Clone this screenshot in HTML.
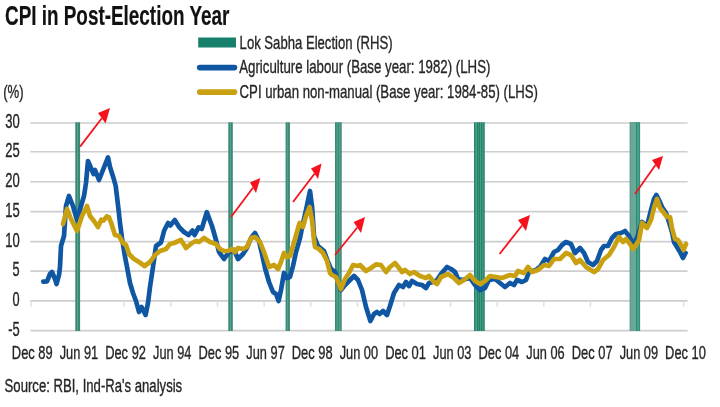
<!DOCTYPE html>
<html lang="en">
<head>
<meta charset="utf-8">
<title>CPI in Post-Election Year</title>
<style>
html,body{margin:0;padding:0;background:#fff;}
body{width:720px;height:407px;overflow:hidden;}
svg{display:block;will-change:transform;opacity:.999;}
</style>
</head>
<body>
<svg width="720" height="407" viewBox="0 0 720 407">
<rect width="720" height="407" fill="#fff"/>
<line x1="30.3" x2="687.6" y1="122.95" y2="122.95" stroke="#cecece" stroke-width="1.6"/>
<line x1="30.3" x2="687.6" y1="151.8" y2="151.8" stroke="#cecece" stroke-width="1.6"/>
<line x1="30.3" x2="687.6" y1="181.8" y2="181.8" stroke="#cecece" stroke-width="1.6"/>
<line x1="30.3" x2="687.6" y1="211.6" y2="211.6" stroke="#cecece" stroke-width="1.6"/>
<line x1="30.3" x2="687.6" y1="241.6" y2="241.6" stroke="#cecece" stroke-width="1.6"/>
<line x1="30.3" x2="687.6" y1="271.1" y2="271.1" stroke="#cecece" stroke-width="1.6"/>
<line x1="30.3" x2="687.6" y1="300.85" y2="300.85" stroke="#cecece" stroke-width="1.6"/>
<line x1="30.3" x2="687.6" y1="330.6" y2="330.6" stroke="#cecece" stroke-width="1.6"/>
<line x1="31.00" x2="31.00" y1="300.85" y2="306.8" stroke="#dcdcdc" stroke-width="1.3"/>
<line x1="77.62" x2="77.62" y1="300.85" y2="306.8" stroke="#dcdcdc" stroke-width="1.3"/>
<line x1="124.24" x2="124.24" y1="300.85" y2="306.8" stroke="#dcdcdc" stroke-width="1.3"/>
<line x1="170.86" x2="170.86" y1="300.85" y2="306.8" stroke="#dcdcdc" stroke-width="1.3"/>
<line x1="217.48" x2="217.48" y1="300.85" y2="306.8" stroke="#dcdcdc" stroke-width="1.3"/>
<line x1="264.10" x2="264.10" y1="300.85" y2="306.8" stroke="#dcdcdc" stroke-width="1.3"/>
<line x1="310.72" x2="310.72" y1="300.85" y2="306.8" stroke="#dcdcdc" stroke-width="1.3"/>
<line x1="357.34" x2="357.34" y1="300.85" y2="306.8" stroke="#dcdcdc" stroke-width="1.3"/>
<line x1="403.96" x2="403.96" y1="300.85" y2="306.8" stroke="#dcdcdc" stroke-width="1.3"/>
<line x1="450.58" x2="450.58" y1="300.85" y2="306.8" stroke="#dcdcdc" stroke-width="1.3"/>
<line x1="497.20" x2="497.20" y1="300.85" y2="306.8" stroke="#dcdcdc" stroke-width="1.3"/>
<line x1="543.82" x2="543.82" y1="300.85" y2="306.8" stroke="#dcdcdc" stroke-width="1.3"/>
<line x1="590.44" x2="590.44" y1="300.85" y2="306.8" stroke="#dcdcdc" stroke-width="1.3"/>
<line x1="637.06" x2="637.06" y1="300.85" y2="306.8" stroke="#dcdcdc" stroke-width="1.3"/>
<line x1="683.68" x2="683.68" y1="300.85" y2="306.8" stroke="#dcdcdc" stroke-width="1.3"/>
<rect x="75.3" y="122.3" width="4.80" height="208.70" fill="#3a8875" opacity="1"/>
<rect x="77.1" y="122.3" width="0.80" height="208.70" fill="#58ad97" opacity="1"/>
<rect x="228.3" y="122.3" width="4.50" height="208.70" fill="#3a8875" opacity="1"/>
<rect x="230.1" y="122.3" width="0.80" height="208.70" fill="#58ad97" opacity="1"/>
<rect x="285.6" y="122.3" width="4.30" height="208.70" fill="#3a8875" opacity="1"/>
<rect x="287.3" y="122.3" width="0.80" height="208.70" fill="#58ad97" opacity="1"/>
<rect x="335" y="122.3" width="6.70" height="208.70" fill="#3a8875" opacity="1"/>
<rect x="336.6" y="122.3" width="1.00" height="208.70" fill="#58ad97" opacity="1"/>
<rect x="339.2" y="122.3" width="1.00" height="208.70" fill="#58ad97" opacity="1"/>
<rect x="474.2" y="122.3" width="10.30" height="208.70" fill="#3fa38b" opacity="1"/>
<rect x="474.09999999999997" y="122.3" width="1.20" height="208.70" fill="#2b7d6a" opacity="1"/>
<rect x="477.0" y="122.3" width="1.20" height="208.70" fill="#2b7d6a" opacity="1"/>
<rect x="478.79999999999995" y="122.3" width="1.20" height="208.70" fill="#2b7d6a" opacity="1"/>
<rect x="481.0" y="122.3" width="1.20" height="208.70" fill="#2b7d6a" opacity="1"/>
<rect x="483.4" y="122.3" width="1.20" height="208.70" fill="#2b7d6a" opacity="1"/>
<rect x="629.7" y="122.3" width="10.40" height="208.70" fill="#2b7d6a" opacity="1"/>
<rect x="630.2" y="122.3" width="6.00" height="208.70" fill="#69a899" opacity="1"/>
<rect x="637.0" y="122.3" width="2.50" height="208.70" fill="#3fa38b" opacity="1"/>
<polyline points="43.3,281.6 47,281.4 50,274 52,272 55,279 56.6,284 59,275 60,267 61,246 64,236 66,206 69,196 73,206 77,220 81,206 84,196 86,183 88,161 93.6,174 95,170 99,180 108,157.4 110,167 113.5,178 115.7,186 118,205 120,223 122,238 124.5,254 127,267 130,283 133,293 136,301 139,312 141.6,307 145.6,315 148,303 150,287 153,267 156,246 161,242.5 164.2,230.5 168.1,223 170.3,225.5 174.8,220 179.4,227.4 184,232 188.6,235 192.5,230.5 194.6,235 198.6,227.4 201.7,229 206.8,212.2 212,226 216,240 219,252 224,259 229,252 234,250 238,259 243,254 247,248 251,238 255,233 259,241 262,254 265,268 269,282 273,292 276,294 278.6,301 281,290 284,273 287,278 290,277 293,266 296,252 300,238 302,228 306,210 310,191 312,206 314,236 318,246 324,251 328,262 331,269 335,272 338,282 341,290 345,285 350,280 354,276 358,280 362,290 366,307 370.4,321 374,314 377,312 379.6,314 383,311 387,315 390,306 394,293 399,285 403,287 406,282 409,286 412,281 417,284 422,285 426,288 429,283 433,282 437,280 441,274 447,267 451,269 455,272 458,279 462,280 470,278 475,285 480,290 485,288 489,280 495,279 500,283 505,287 510,283 514,285 517,280 522,282 526,280 529,272 536,270 540,267 545,259 549,261 554,252 558,250 562,245 566,242 571,244 575,253 580,248 584,253 588,262 593,265 597,261 601,250 604,246 608,246 612,238 616,234 621,233 625,231 629,236 633,244 637,238 642,222 647,226 651,210 654,199 656.4,195 659,200 662,207 666,213 669,222 672,232 674,242 677,247 680,252 683,258 685.6,253" fill="none" stroke="#0f56a3" stroke-width="4.7" stroke-linejoin="round" stroke-linecap="round"/>
<polyline points="63,224 67,209 71,219 77,231 82,216 87,206 90,216 94,221 98,227 101.3,219.6 103.5,220.7 106.8,216.3 109,217.4 111.2,223 115,235 119,236 123,243 126,245 129,254 134,259 139,262 144.5,266 150,262 155,255 160,251 166,249 170,244 174,243 181,240 186,248 192,243 196,241 199,242 204,238 210,242 216,244 220,249 224,251 228,251 232,249 235,252 238,248 243,249 247,247 251,238 255,237 260,242 264,252 269,267 274,265 278,269 281,262 284,253 287,257 290,256 293,246 297,232 299.6,223 303,227 306,216 309.6,207 312,220 314,240 315,247 319,249 323,253 327,261 330,273 332,275 336,277 341,289 345,279 349,273 353,265 358,266 360,265 366,271 371,268 376,264.4 381,265 386,272 390,267 395,263 399,268 402,272 405,270 410,274 414,272 420,276 426,278 429,276 434,282 437,284 441,277 448,274 454,278 459,283 464,280 470,275 475,281 480,284 485,281 490,276 496,277 502,278 510,275 515,276 518,271 524,273 528,267 532,272 538,270 544,265 549,266 554,259 560,259 566,253 571,255 576,263 580,260 586,267 594,272 598,269 603,260 609,255 614,247 619,237 623,242 626,239 630,244 633,249 636,245 639,240 642,223 647,228 651,220 654,208 657,199 660,208 664,213 667,217 670,217 672,228 675,239 678,240 681,245 683.6,250 686,244" fill="none" stroke="#c9a00f" stroke-width="4.7" stroke-linejoin="round" stroke-linecap="round"/>
<line x1="80.1" y1="146.6" x2="101.80" y2="118.20" stroke="#f5121d" stroke-width="1.8"/>
<polygon points="110,108 98,113 105.6,123.4" fill="#f5121d"/>
<line x1="231" y1="217" x2="253.00" y2="187.70" stroke="#f5121d" stroke-width="1.8"/>
<polygon points="260.4,178 250,182.4 256,193" fill="#f5121d"/>
<line x1="293" y1="202" x2="314.50" y2="173.70" stroke="#f5121d" stroke-width="1.8"/>
<polygon points="321.6,163.6 311,168.4 318,179" fill="#f5121d"/>
<line x1="335" y1="255" x2="357.30" y2="227.50" stroke="#f5121d" stroke-width="1.8"/>
<polygon points="365,217 353.6,222 361,233" fill="#f5121d"/>
<line x1="499.6" y1="254" x2="522.00" y2="225.50" stroke="#f5121d" stroke-width="1.8"/>
<polygon points="530,215 518,220 526,231" fill="#f5121d"/>
<line x1="635" y1="194" x2="655.50" y2="165.00" stroke="#f5121d" stroke-width="1.8"/>
<polygon points="663,156 652,160 659,170" fill="#f5121d"/>
<rect x="198.2" y="37.5" width="37.8" height="10" fill="#17806a"/>
<line x1="199.7" x2="234.5" y1="67.6" y2="67.6" stroke="#0f56a3" stroke-width="5.6" stroke-linecap="round"/>
<line x1="199.7" x2="234.5" y1="92.1" y2="92.1" stroke="#c9a00f" stroke-width="5.6" stroke-linecap="round"/>
<text x="5.0" y="24.8" font-family="'Liberation Sans', Arial, sans-serif" font-size="28.2" font-weight="bold" fill="#111" stroke="#111" stroke-width="0.2" text-anchor="start" textLength="224.3" lengthAdjust="spacingAndGlyphs">CPI in Post-Election Year</text>
<text x="239.6" y="48.7" font-family="'Liberation Sans', Arial, sans-serif" font-size="18.4" font-weight="normal" fill="#262626" stroke="#262626" stroke-width="0.35" text-anchor="start" textLength="153" lengthAdjust="spacingAndGlyphs">Lok Sabha Election (RHS)</text>
<text x="239.2" y="72.9" font-family="'Liberation Sans', Arial, sans-serif" font-size="18.4" font-weight="normal" fill="#262626" stroke="#262626" stroke-width="0.35" text-anchor="start" textLength="251.2" lengthAdjust="spacingAndGlyphs">Agriculture labour (Base year: 1982) (LHS)</text>
<text x="239.6" y="97.8" font-family="'Liberation Sans', Arial, sans-serif" font-size="18.4" font-weight="normal" fill="#262626" stroke="#262626" stroke-width="0.35" text-anchor="start" textLength="298.4" lengthAdjust="spacingAndGlyphs">CPI urban non-manual (Base year: 1984-85) (LHS)</text>
<text x="3.2" y="98.2" font-family="'Liberation Sans', Arial, sans-serif" font-size="18.4" font-weight="normal" fill="#262626" stroke="#262626" stroke-width="0.35" text-anchor="start" textLength="20.4" lengthAdjust="spacingAndGlyphs">(%)</text>
<text x="19.7" y="128.3" font-family="'Liberation Sans', Arial, sans-serif" font-size="19.4" font-weight="normal" fill="#262626" stroke="#262626" stroke-width="0.35" text-anchor="end" textLength="14.5" lengthAdjust="spacingAndGlyphs">30</text>
<text x="19.7" y="157.15" font-family="'Liberation Sans', Arial, sans-serif" font-size="19.4" font-weight="normal" fill="#262626" stroke="#262626" stroke-width="0.35" text-anchor="end" textLength="14.5" lengthAdjust="spacingAndGlyphs">25</text>
<text x="19.7" y="187.15" font-family="'Liberation Sans', Arial, sans-serif" font-size="19.4" font-weight="normal" fill="#262626" stroke="#262626" stroke-width="0.35" text-anchor="end" textLength="14.5" lengthAdjust="spacingAndGlyphs">20</text>
<text x="19.7" y="216.95" font-family="'Liberation Sans', Arial, sans-serif" font-size="19.4" font-weight="normal" fill="#262626" stroke="#262626" stroke-width="0.35" text-anchor="end" textLength="14.5" lengthAdjust="spacingAndGlyphs">15</text>
<text x="19.7" y="246.95" font-family="'Liberation Sans', Arial, sans-serif" font-size="19.4" font-weight="normal" fill="#262626" stroke="#262626" stroke-width="0.35" text-anchor="end" textLength="14.5" lengthAdjust="spacingAndGlyphs">10</text>
<text x="19.7" y="276.45000000000005" font-family="'Liberation Sans', Arial, sans-serif" font-size="19.4" font-weight="normal" fill="#262626" stroke="#262626" stroke-width="0.35" text-anchor="end" textLength="7.1000000000000005" lengthAdjust="spacingAndGlyphs">5</text>
<text x="19.7" y="306.20000000000005" font-family="'Liberation Sans', Arial, sans-serif" font-size="19.4" font-weight="normal" fill="#262626" stroke="#262626" stroke-width="0.35" text-anchor="end" textLength="7.1000000000000005" lengthAdjust="spacingAndGlyphs">0</text>
<text x="19.7" y="335.95000000000005" font-family="'Liberation Sans', Arial, sans-serif" font-size="19.4" font-weight="normal" fill="#262626" stroke="#262626" stroke-width="0.35" text-anchor="end" textLength="11.5" lengthAdjust="spacingAndGlyphs">-5</text>
<text x="32.25" y="358.8" font-family="'Liberation Sans', Arial, sans-serif" font-size="18.4" font-weight="normal" fill="#262626" stroke="#262626" stroke-width="0.35" text-anchor="middle" textLength="40.8" lengthAdjust="spacingAndGlyphs">Dec 89</text>
<text x="78.91" y="358.8" font-family="'Liberation Sans', Arial, sans-serif" font-size="18.4" font-weight="normal" fill="#262626" stroke="#262626" stroke-width="0.35" text-anchor="middle" textLength="38.4" lengthAdjust="spacingAndGlyphs">Jun 91</text>
<text x="125.57" y="358.8" font-family="'Liberation Sans', Arial, sans-serif" font-size="18.4" font-weight="normal" fill="#262626" stroke="#262626" stroke-width="0.35" text-anchor="middle" textLength="40.8" lengthAdjust="spacingAndGlyphs">Dec 92</text>
<text x="172.23" y="358.8" font-family="'Liberation Sans', Arial, sans-serif" font-size="18.4" font-weight="normal" fill="#262626" stroke="#262626" stroke-width="0.35" text-anchor="middle" textLength="38.4" lengthAdjust="spacingAndGlyphs">Jun 94</text>
<text x="218.89" y="358.8" font-family="'Liberation Sans', Arial, sans-serif" font-size="18.4" font-weight="normal" fill="#262626" stroke="#262626" stroke-width="0.35" text-anchor="middle" textLength="40.8" lengthAdjust="spacingAndGlyphs">Dec 95</text>
<text x="265.55" y="358.8" font-family="'Liberation Sans', Arial, sans-serif" font-size="18.4" font-weight="normal" fill="#262626" stroke="#262626" stroke-width="0.35" text-anchor="middle" textLength="38.4" lengthAdjust="spacingAndGlyphs">Jun 97</text>
<text x="312.21" y="358.8" font-family="'Liberation Sans', Arial, sans-serif" font-size="18.4" font-weight="normal" fill="#262626" stroke="#262626" stroke-width="0.35" text-anchor="middle" textLength="40.8" lengthAdjust="spacingAndGlyphs">Dec 98</text>
<text x="358.87" y="358.8" font-family="'Liberation Sans', Arial, sans-serif" font-size="18.4" font-weight="normal" fill="#262626" stroke="#262626" stroke-width="0.35" text-anchor="middle" textLength="38.4" lengthAdjust="spacingAndGlyphs">Jun 00</text>
<text x="405.53" y="358.8" font-family="'Liberation Sans', Arial, sans-serif" font-size="18.4" font-weight="normal" fill="#262626" stroke="#262626" stroke-width="0.35" text-anchor="middle" textLength="40.8" lengthAdjust="spacingAndGlyphs">Dec 01</text>
<text x="452.19" y="358.8" font-family="'Liberation Sans', Arial, sans-serif" font-size="18.4" font-weight="normal" fill="#262626" stroke="#262626" stroke-width="0.35" text-anchor="middle" textLength="38.4" lengthAdjust="spacingAndGlyphs">Jun 03</text>
<text x="498.85" y="358.8" font-family="'Liberation Sans', Arial, sans-serif" font-size="18.4" font-weight="normal" fill="#262626" stroke="#262626" stroke-width="0.35" text-anchor="middle" textLength="40.8" lengthAdjust="spacingAndGlyphs">Dec 04</text>
<text x="545.51" y="358.8" font-family="'Liberation Sans', Arial, sans-serif" font-size="18.4" font-weight="normal" fill="#262626" stroke="#262626" stroke-width="0.35" text-anchor="middle" textLength="38.4" lengthAdjust="spacingAndGlyphs">Jun 06</text>
<text x="592.17" y="358.8" font-family="'Liberation Sans', Arial, sans-serif" font-size="18.4" font-weight="normal" fill="#262626" stroke="#262626" stroke-width="0.35" text-anchor="middle" textLength="40.8" lengthAdjust="spacingAndGlyphs">Dec 07</text>
<text x="638.83" y="358.8" font-family="'Liberation Sans', Arial, sans-serif" font-size="18.4" font-weight="normal" fill="#262626" stroke="#262626" stroke-width="0.35" text-anchor="middle" textLength="38.4" lengthAdjust="spacingAndGlyphs">Jun 09</text>
<text x="685.49" y="358.8" font-family="'Liberation Sans', Arial, sans-serif" font-size="18.4" font-weight="normal" fill="#262626" stroke="#262626" stroke-width="0.35" text-anchor="middle" textLength="40.8" lengthAdjust="spacingAndGlyphs">Dec 10</text>
<text x="4.6" y="392.3" font-family="'Liberation Sans', Arial, sans-serif" font-size="18" font-weight="normal" fill="#262626" stroke="#262626" stroke-width="0.35" text-anchor="start" textLength="177.6" lengthAdjust="spacingAndGlyphs">Source: RBI, Ind-Ra's analysis</text>
</svg>
</body>
</html>
